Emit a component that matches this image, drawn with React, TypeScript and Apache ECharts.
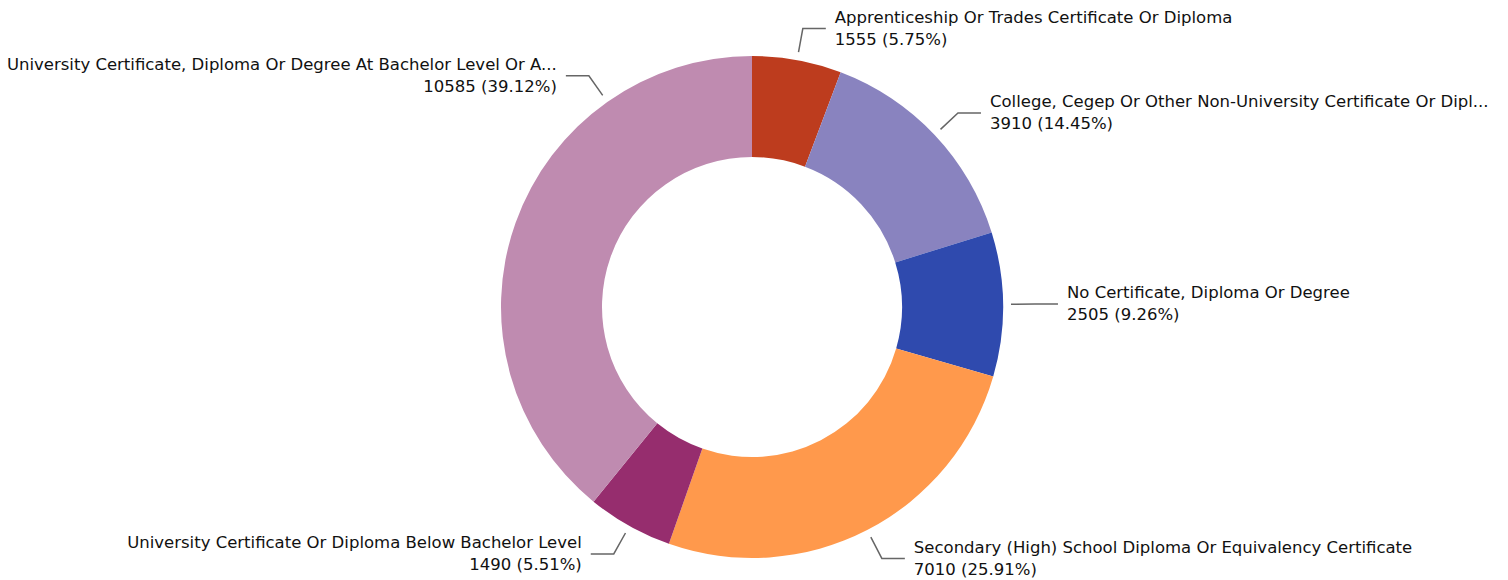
import React, { useEffect, useRef } from "react";
import * as echarts from "echarts";

const categories = [
  "Apprenticeship Or Trades Certificate Or Diploma",
  "College, Cegep Or Other Non-University Certificate Or Diploma",
  "No Certificate, Diploma Or Degree",
  "Secondary (High) School Diploma Or Equivalency Certificate",
  "University Certificate Or Diploma Below Bachelor Level",
  "University Certificate, Diploma Or Degree At Bachelor Level Or Above",
];
const values = [1555, 3910, 2505, 7010, 1490, 10585];
const colors = ["#bd3c1e", "#8983bf", "#2f4aae", "#ff994c", "#962d6e", "#bf8bb0"];

const W = 1508;
const H = 580;
const CX = 752;
const CY = 307;
const R_IN = 150;
const R_OUT = 251;
const LINE_GAP = 8;
const LEN1 = 32;
const LEN2 = 23;
const TEXT_GAP = 9;
// the largest slice's label sits higher up on its arc in the reference
const MOVED_INDEX = 5;
const MOVED_ANGLE = 324.8; // degrees clockwise from 12 o'clock
const MOVED_WIDTH = 556;

function linePoints(ux: number, uy: number) {
  const p0 = [CX + ux * (R_OUT + LINE_GAP), CY + uy * (R_OUT + LINE_GAP)];
  const p1 = [CX + ux * (R_OUT + LEN1), CY + uy * (R_OUT + LEN1)];
  const left = ux < 0;
  const p2 = [p1[0] + (left ? -LEN2 : LEN2), p1[1]];
  return {
    x: p2[0] + (left ? -TEXT_GAP : TEXT_GAP),
    y: p2[1],
    align: left ? "right" : "left",
    verticalAlign: "middle",
    labelLinePoints: [p0, p1, p2],
  };
}

export default function App() {
  const ref = useRef<HTMLDivElement>(null);
  useEffect(() => {
    if (!ref.current) return;
    const chart = echarts.init(ref.current, undefined, { renderer: "svg" });
    chart.setOption({
      animation: false,
      series: [
        {
          type: "pie",
          center: [CX, CY],
          radius: [R_IN, R_OUT],
          startAngle: 90,
          clockwise: true,
          avoidLabelOverlap: true,
          data: categories.map((c, i) => ({
            name: c,
            value: values[i],
            itemStyle: { color: colors[i] },
            label: i === MOVED_INDEX ? { width: MOVED_WIDTH } : undefined,
          })),
          label: {
            show: true,
            formatter: "{b}\n{c} ({d}%)",
            fontFamily: "DejaVu Sans",
            fontSize: 16.5,
            lineHeight: 22,
            color: "#111",
            overflow: "truncate",
            edgeDistance: 10,
            distanceToLabelLine: TEXT_GAP,
          },
          labelLine: {
            show: true,
            length: LEN1,
            length2: LEN2,
            lineStyle: { color: "#666", width: 1.5 },
          },
          labelLayout: (params: any) => {
            if (params.dataIndex === MOVED_INDEX) {
              const a = (MOVED_ANGLE * Math.PI) / 180;
              return linePoints(Math.sin(a), -Math.cos(a));
            }
            const pts = params.labelLinePoints;
            if (!pts) return {};
            const p0 = pts[0];
            const dx = p0[0] - CX;
            const dy = p0[1] - CY;
            const len = Math.hypot(dx, dy) || 1;
            return linePoints(dx / len, dy / len);
          },
        },
      ],
    });
    return () => chart.dispose();
  }, []);
  return (
    <div
      ref={ref}
      style={{ position: "absolute", left: 0, top: 0, width: W, height: H }}
    />
  );
}
